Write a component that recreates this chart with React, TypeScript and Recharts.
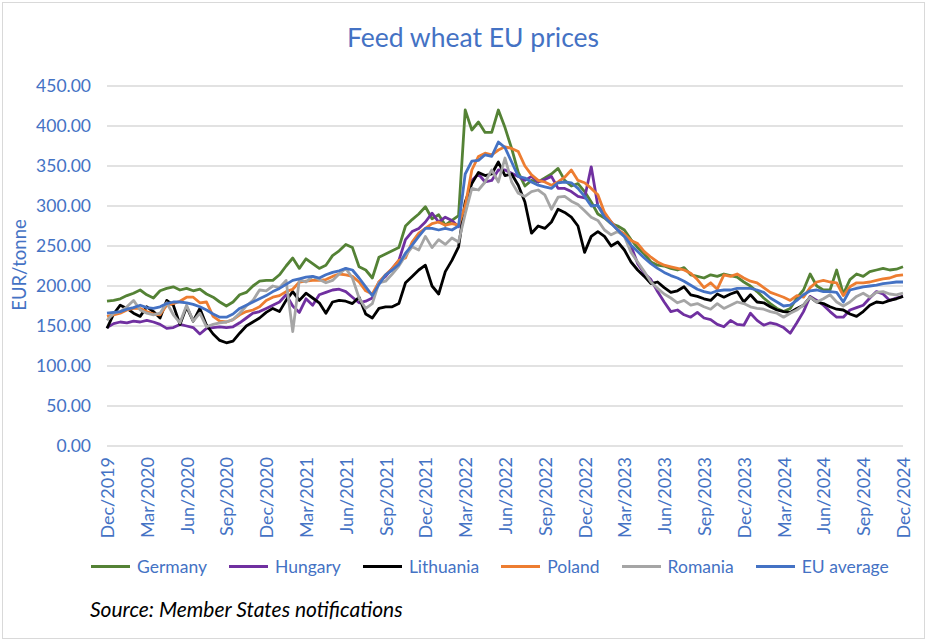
import React from 'react';
import { LineChart, Line, XAxis, YAxis, CartesianGrid, Legend } from 'recharts';

// Semi-monthly observations, index 0 = Dec 2019 ... index 120 = Dec 2024
const tickLabels = [
  'Dec/2019', 'Mar/2020', 'Jun/2020', 'Sep/2020', 'Dec/2020', 'Mar/2021', 'Jun/2021',
  'Sep/2021', 'Dec/2021', 'Mar/2022', 'Jun/2022', 'Sep/2022', 'Dec/2022', 'Mar/2023',
  'Jun/2023', 'Sep/2023', 'Dec/2023', 'Mar/2024', 'Jun/2024', 'Sep/2024', 'Dec/2024',
];
const yTicks = [0, 50, 100, 150, 200, 250, 300, 350, 400, 450];

const germany = [
  181, 182, 184, 188, 191, 195, 189, 185, 194, 197,
  199, 195, 197, 194, 196, 190, 186, 180, 175, 180,
  189, 192, 200, 206, 207, 207, 214, 225, 235, 222,
  234, 228, 222, 226, 238, 244, 252, 248, 224, 220,
  210, 236, 240, 244, 248, 275, 283, 290, 299, 284,
  289, 276, 282, 288, 420, 395, 405, 392, 392, 420,
  398, 372, 342, 325, 332, 330, 335, 340, 347, 332,
  325, 328, 318, 305, 290, 285, 278, 275, 270, 258,
  248, 240, 230, 226, 225, 222, 220, 223, 214, 212,
  210, 214, 212, 215, 213, 211, 205, 200, 193, 185,
  178, 172, 168, 172, 185, 195, 215, 200, 195, 195,
  220, 190, 208, 215, 212, 218, 220, 222, 220, 221,
  224,
];
const hungary = [
  148, 153, 155, 154, 156, 155, 157, 155, 152, 147,
  148, 152, 150, 148, 140, 147, 148, 149, 148, 149,
  154, 160, 166, 168, 172, 176, 180, 189, 175, 167,
  184, 176, 189, 192, 195, 196, 193, 186, 179, 181,
  185, 205, 212, 222, 232, 258, 268, 272, 280, 291,
  280, 286, 282, 274, 295, 332, 340, 330, 332, 345,
  345, 341, 337, 332, 337, 330, 333, 337, 322, 322,
  318, 312, 310, 349, 300, 290, 280, 270, 264, 250,
  228, 216, 208, 193, 180, 168, 170, 164, 161, 167,
  160, 158, 152, 149, 157, 152, 151, 166, 157, 151,
  154, 152, 148, 141, 154, 168, 187, 182, 176, 168,
  161, 161, 170, 173, 176, 185, 193, 190, 182, 185,
  187,
];
const lithuania = [
  147, 165, 176, 172, 166, 162, 174, 168, 160, 182,
  176, 152, 174, 156, 172, 151, 140, 132, 129, 131,
  141, 150, 155, 160, 167, 172, 168, 182, 193, 182,
  191, 185, 179, 166, 180, 182, 181, 178, 186, 165,
  160, 172, 174, 174, 178, 204, 212, 220, 226, 200,
  190, 218, 232, 249, 305, 328, 342, 338, 340, 355,
  338, 340, 326, 305, 266, 275, 272, 280, 296, 292,
  286, 275, 242, 262, 268, 262, 250, 255, 245, 230,
  220, 212, 203, 205, 198, 192, 194, 199, 189, 187,
  184, 182, 190, 186, 190, 193, 180, 189, 180, 179,
  174, 170, 168, 167, 172, 176, 186, 180, 178, 174,
  171, 170, 165, 162, 168, 176, 180, 179, 182, 184,
  187,
];
const poland = [
  162, 164, 166, 170, 172, 172, 168, 165, 164, 176,
  178, 181, 186, 186, 179, 180, 162, 156, 155, 158,
  164, 168, 170, 174, 182, 186, 188, 193, 196, 205,
  206, 207, 207, 208, 212, 215, 214, 212, 205, 194,
  190, 205, 214, 222, 232, 235, 255, 266, 272, 278,
  280, 276, 278, 276, 300, 345, 362, 366, 364, 370,
  374, 372, 368, 350, 339, 332, 330, 326, 330, 336,
  345, 332, 329, 322, 314, 292, 280, 270, 265, 257,
  253, 243, 236, 230, 226, 224, 222, 220, 216, 208,
  198, 204, 196, 214, 212, 215, 210, 206, 204, 198,
  192, 189, 186, 182, 188, 186, 198, 205, 207, 205,
  204, 188, 199, 204, 204, 205, 207, 209, 210, 213,
  214,
];
const romania = [
  157, 166, 168, 174, 182, 170, 166, 164, 166, 179,
  164, 154, 176, 156, 166, 149, 152, 154, 155, 158,
  166, 175, 182, 195, 194, 200, 198, 207, 143, 208,
  205, 212, 208, 204, 207, 215, 222, 210, 185, 172,
  178, 204, 206, 215, 225, 238, 249, 245, 262, 248,
  258, 252, 260, 255, 290, 322, 320, 330, 345, 330,
  360, 330, 316, 312, 318, 320, 314, 296, 311, 312,
  306, 302, 294, 286, 282, 270, 264, 268, 262, 242,
  230, 218, 205, 197, 190, 185, 179, 182, 176, 178,
  174, 171, 178, 172, 176, 180, 178, 174, 172, 171,
  168, 166, 161, 166, 170, 176, 186, 180, 184, 189,
  180, 175, 180, 187, 191, 186, 192, 193, 190, 189,
  191,
];
const euAverage = [
  166, 167, 168, 171, 173, 176, 173, 172, 174, 178,
  180, 180, 179, 177, 174, 170, 165, 161, 161, 165,
  172, 176, 180, 184, 188, 193, 197, 202, 207, 209,
  211, 212, 210, 214, 217, 219, 222, 220, 210, 199,
  188, 202, 214, 220, 227, 241, 251, 262, 272, 272,
  270, 272, 270, 275, 340, 356, 357, 364, 362, 380,
  373, 355, 337, 335, 330, 326, 324, 322, 329, 330,
  329, 322, 312, 300, 301, 286, 278, 270, 262, 251,
  243, 235, 228, 222, 217, 213, 210, 206, 201, 196,
  193, 191, 194, 195, 195, 197, 197, 197, 195, 192,
  185, 180, 175, 176, 182, 189, 194, 195, 193, 193,
  192, 180, 195, 197, 199, 200, 201, 203, 204, 205,
  205,
];

const seriesDefs = [
  { key: 'germany', name: 'Germany', color: '#548235', values: germany },
  { key: 'hungary', name: 'Hungary', color: '#7030A0', values: hungary },
  { key: 'lithuania', name: 'Lithuania', color: '#000000', values: lithuania },
  { key: 'poland', name: 'Poland', color: '#ED7D31', values: poland },
  { key: 'romania', name: 'Romania', color: '#A5A5A5', values: romania },
  { key: 'eu', name: 'EU average', color: '#4472C4', values: euAverage },
];

const data = germany.map((_, i) => {
  const row: Record<string, number> = { idx: i };
  seriesDefs.forEach((s) => { row[s.key] = s.values[i]; });
  return row;
});
const tickIdx = tickLabels.map((_, k) => k * 6);

const TEXT_BLUE = '#4472C4';
const FONT = 'Lato, sans-serif';

const XTick = (props: any) => {
  const { x, y, payload } = props;
  const label = tickLabels[Math.round(payload.value / 6)];
  return (
    <text
      x={x}
      y={y}
      transform={`rotate(-90, ${x}, ${y})`}
      textAnchor="end"
      dy={7}
      fill={TEXT_BLUE}
      fontSize={18}
      fontFamily={FONT}
    >
      {label}
    </text>
  );
};

const renderLegend = () => (
  <div style={{ display: 'flex', alignItems: 'center', gap: 22, fontFamily: FONT, fontSize: 17.5, color: TEXT_BLUE, whiteSpace: 'nowrap' }}>
    {seriesDefs.map((s) => (
      <div key={s.key} style={{ display: 'flex', alignItems: 'center' }}>
        <span style={{ display: 'inline-block', width: 39, height: 3, background: s.color, marginRight: 7 }} />
        <span>{s.name}</span>
      </div>
    ))}
  </div>
);

export default function App() {
  return (
    <div style={{ position: 'absolute', left: 0, top: 0, width: 929, height: 643, background: '#fff', fontFamily: FONT, overflow: 'hidden' }}>
      <div style={{ position: 'absolute', left: 2, top: 2, width: 923, height: 637, border: '1px solid #d9d9d9', boxSizing: 'border-box' }} />
      <div style={{ position: 'absolute', left: 473, top: 21, transform: 'translateX(-50%)', whiteSpace: 'nowrap', fontSize: 26.5, color: TEXT_BLUE }}>
        Feed wheat EU prices
      </div>
      <div style={{ position: 'absolute', left: 19, top: 265, transform: 'translate(-50%, -50%) rotate(-90deg)', whiteSpace: 'nowrap', fontSize: 18.5, color: TEXT_BLUE }}>
        EUR/tonne
      </div>
      <div style={{ position: 'absolute', left: 0, top: 0 }}>
        <LineChart width={929} height={643} data={data} margin={{ top: 86, right: 26, bottom: 97, left: 8 }}>
          <CartesianGrid vertical={false} stroke="#d9d9d9" strokeWidth={1.5} />
          <XAxis
            dataKey="idx"
            type="number"
            domain={[0, 120]}
            ticks={tickIdx}
            interval={0}
            tick={<XTick />}
            tickLine={false}
            axisLine={false}
            height={100}
            tickMargin={5}
          />
          <YAxis
            domain={[0, 450]}
            ticks={yTicks}
            interval={0}
            tickFormatter={(v: number) => v.toFixed(2)}
            axisLine={false}
            tickLine={false}
            width={99}
            tickMargin={10}
            tick={{ fill: TEXT_BLUE, fontSize: 17.5, fontFamily: FONT }}
          />
          {seriesDefs.map((s) => (
            <Line
              key={s.key}
              type="linear"
              dataKey={s.key}
              name={s.name}
              stroke={s.color}
              strokeWidth={2.8}
              dot={false}
              activeDot={false}
              strokeLinejoin="round"
              isAnimationActive={false}
            />
          ))}
          <Legend
            layout="horizontal"
            verticalAlign="middle"
            align="center"
            content={renderLegend}
            wrapperStyle={{ left: 91, top: 556, width: 830 }}
          />
        </LineChart>
      </div>
      <div style={{ position: 'absolute', left: 90, top: 596, fontSize: 21, fontStyle: 'italic', color: '#000', whiteSpace: 'nowrap' }}>
        Source: Member States notifications
      </div>
    </div>
  );
}
